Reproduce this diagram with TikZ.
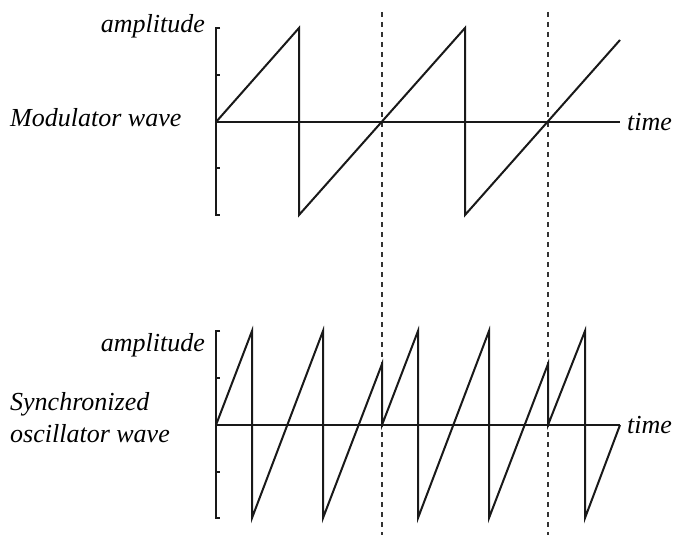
\documentclass[tikz,border=0pt]{standalone}
\usepackage{fontspec}
\setmainfont{Liberation Serif}
\newfontfamily\labfont{Liberation Serif}[UprightFont=* Italic]
\begin{document}
\begin{tikzpicture}[x=1pt,y=-1pt,
  wave/.style={line width=2pt,line join=miter,black!90},
  axis/.style={line width=2pt,black!90},
  guide/.style={line width=1.1pt,dash pattern=on 5pt off 5pt,black!80},
  lbl/.style={font=\labfont\fontsize{26}{32}\selectfont,inner sep=0pt}]
\useasboundingbox (0,0) rectangle (674,535);
% guides
\draw[guide] (382,12) -- (382,535);
\draw[guide] (548,12) -- (548,535);
% top graph
\draw[axis] (220,28) -- (216,28) -- (216,215) -- (220,215);
\foreach \yy in {75,168} \draw[axis] (216,\yy) -- (220,\yy);
\draw[axis] (216,122) -- (620,122);
\draw[wave] (216,122) -- (299,28) -- (299,215) -- (465,28) -- (465,215) -- (620,40);
% bottom graph
\draw[axis] (220,331) -- (216,331) -- (216,518) -- (220,518);
\foreach \yy in {378,472} \draw[axis] (216,\yy) -- (220,\yy);
\draw[axis] (216,425) -- (620,425);
\draw[wave] (216,425) -- (252,331) -- (252,518) -- (323,331) -- (323,518)
  -- (382,364) -- (382,425) -- (418,331) -- (418,518) -- (489,331) -- (489,518)
  -- (548,364) -- (548,425) -- (585,331) -- (585,518) -- (620,425);
% labels
\node[lbl,anchor=base east] (amp1) at (205,33) {amplitude};
\node[lbl,anchor=base west] (mod) at (10,126) {Modulator wave};
\node[lbl,anchor=base west] (t1) at (627,130) {time};
\node[lbl,anchor=base east] (amp2) at (205,351) {amplitude};
\node[lbl,anchor=base west,align=left] (sync) at (10,442) {Synchronized\\oscillator wave};
\node[lbl,anchor=base west] (t2) at (627,433) {time};
\end{tikzpicture}
\end{document}
